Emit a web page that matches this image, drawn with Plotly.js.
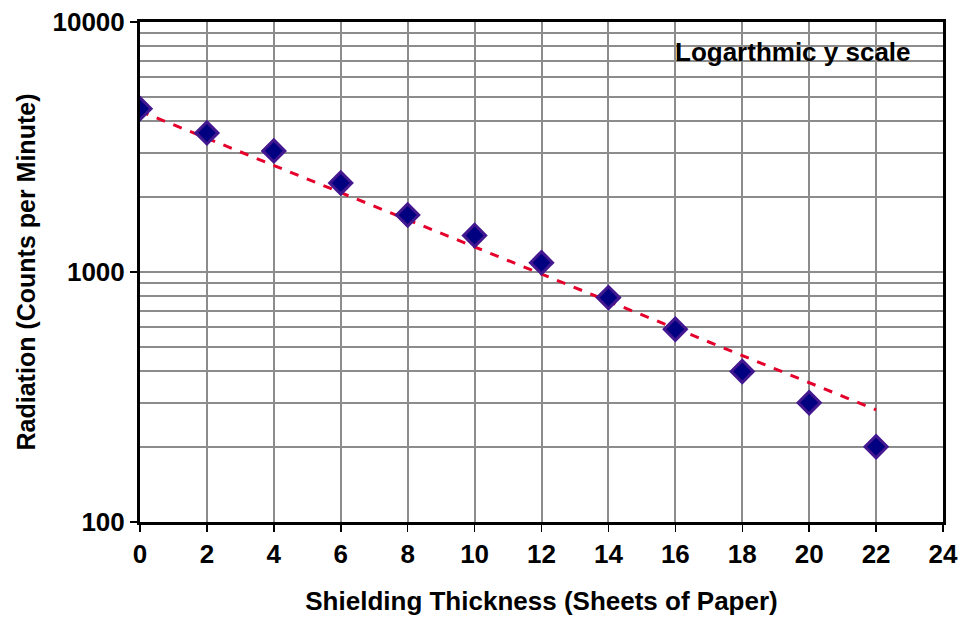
<!DOCTYPE html>
<html>
<head>
<meta charset="utf-8">
<script src="https://cdn.plot.ly/plotly-3.0.1.min.js"></script>
<style>html,body{margin:0;padding:0;background:#fff;}#chart{width:969px;height:626px;}</style>
</head>
<body>
<div id="chart"></div>
<script>
// Data
const thickness = [0, 2, 4, 6, 8, 10, 12, 14, 16, 18, 20, 22];
const radiation = [4500, 3600, 3050, 2270, 1690, 1400, 1090, 790, 590, 400, 300, 200];
// Exponential trendline, endpoints
const trendX = [0, 22];
const trendY = [4400, 281];
const xTicks = [0, 2, 4, 6, 8, 10, 12, 14, 16, 18, 20, 22, 24];
const yTicks = [100, 1000, 10000];

const FONT = '"Liberation Sans", Arial, sans-serif';

const traces = [
  {
    x: trendX, y: trendY, type: 'scatter', mode: 'lines',
    line: {color: '#e4002b', width: 3, dash: '9px,9px'},
    hoverinfo: 'skip', showlegend: false
  },
  {
    x: thickness, y: radiation, type: 'scatter', mode: 'markers',
    marker: {symbol: 'diamond', size: 17, color: '#000080', line: {color: '#42178f', width: 3}},
    showlegend: false
  }
];

const GRID = '#8c8c8c';
const layout = {
  width: 969, height: 626,
  margin: {l: 140, r: 26, t: 22, b: 104},
  paper_bgcolor: '#ffffff', plot_bgcolor: '#ffffff',
  font: {family: FONT, size: 26, color: '#000', weight: 'bold'},
  showlegend: false,
  xaxis: {
    range: [0, 24],
    tickvals: xTicks, ticktext: xTicks.map(String),
    showgrid: true, gridcolor: GRID, gridwidth: 2,
    zeroline: false,
    showline: true, linecolor: '#000', linewidth: 3, mirror: true,
    ticks: 'outside', ticklen: 7, tickwidth: 1.5, tickcolor: '#000',
    tickfont: {family: FONT, size: 26, color: '#000', weight: 'bold'},
    title: {text: 'Shielding Thickness (Sheets of Paper)', font: {family: FONT, size: 26, color: '#000', weight: 'bold'}, standoff: 24}
  },
  yaxis: {
    type: 'log', range: [2, 4],
    tickvals: yTicks, ticktext: yTicks.map(String),
    showgrid: true, gridcolor: GRID, gridwidth: 2,
    minor: {dtick: 'D1', showgrid: true, gridcolor: GRID, gridwidth: 2, ticks: ''},
    zeroline: false,
    showline: true, linecolor: '#000', linewidth: 3, mirror: true,
    ticks: 'outside', ticklen: 7, tickwidth: 1.5, tickcolor: '#000',
    tickfont: {family: FONT, size: 26, color: '#000', weight: 'bold'},
    title: {text: 'Radiation (Counts per Minute)', font: {family: FONT, size: 25, color: '#000', weight: 'bold'}, standoff: 10}
  },
  annotations: [{
    text: 'Logarthmic y scale', xref: 'paper', yref: 'paper',
    x: 0.963, y: 0.94, xanchor: 'right', yanchor: 'middle', showarrow: false,
    font: {family: FONT, size: 26, color: '#000', weight: 'bold'}
  }]
};

Plotly.newPlot('chart', traces, layout, {displayModeBar: false, staticPlot: true});
</script>
</body>
</html>
